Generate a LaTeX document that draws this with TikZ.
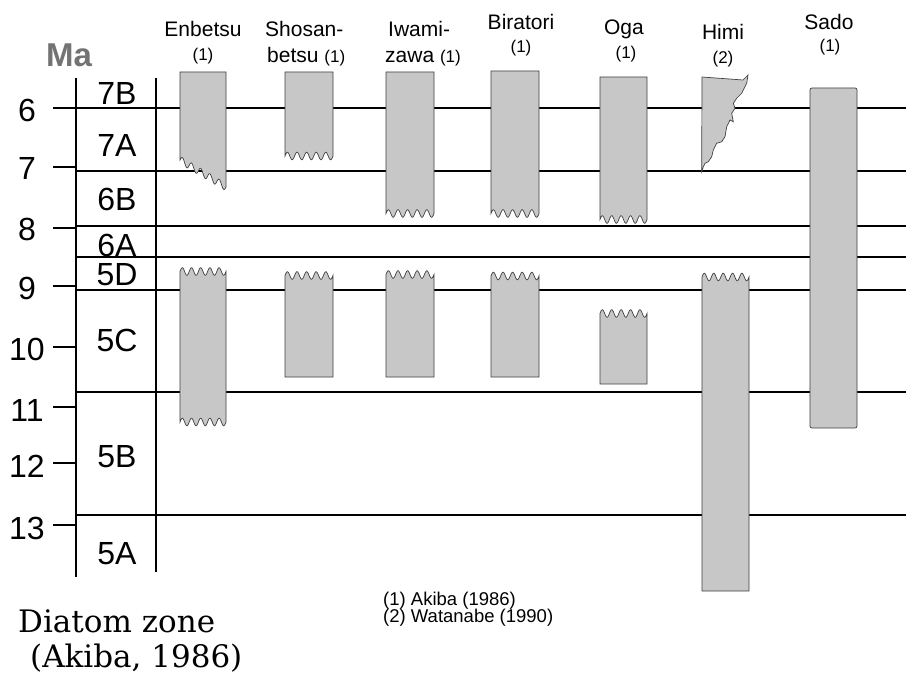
\documentclass[tikz,border=0pt]{standalone}
\usepackage{fontspec}
\setmainfont{Liberation Sans}
\newfontfamily\serf{DejaVu Serif}
\newcommand\boxWB[4]{% x1 x2 top bottom-wave
 \filldraw[colbox] (#1,#3) -- (#2,#3) -- (#2,#4) -- plot[domain=#2:#1,samples=71] (\x,{#4-3.8*sin((\x-#1)/(#2-#1)*1800)}) -- cycle;}
\newcommand\boxWT[4]{% x1 x2 top-wave bottom
 \filldraw[colbox] (#1,#4) -- (#2,#4) -- (#2,#3) -- plot[domain=#2:#1,samples=71] (\x,{#3-3.8*sin((\x-#1)/(#2-#1)*1800)}) -- cycle;}
\newcommand\boxWW[4]{% x1 x2 top-wave bottom-wave
 \filldraw[colbox] (#1,#3) -- plot[domain=#1:#2,samples=71] (\x,{#3-3.8*sin((\x-#1)/(#2-#1)*1800)}) -- (#2,#4) -- plot[domain=#2:#1,samples=71] (\x,{#4-3.8*sin((\x-#1)/(#2-#1)*1800)}) -- cycle;}
\begin{document}
\begin{tikzpicture}[x=1pt,y=-1pt,
  zline/.style={line width=1.4pt, black},
  colbox/.style={fill=black!22, draw=black!75, line width=0.7pt},
  lab/.style={inner sep=0pt, font=\fontsize{32}{38}\selectfont},
  hdr/.style={inner sep=0pt, anchor=base, font=\fontsize{21}{25}\selectfont},
  refn/.style={inner sep=0pt, anchor=base, font=\fontsize{17}{20}\selectfont},
  leg/.style={inner sep=0pt, anchor=base west, font=\fontsize{18.5}{20}\selectfont}]
\useasboundingbox (0,0) rectangle (906,674);
\fill[white] (0,0) rectangle (906,674);

% zone boundaries
\draw[zline] (53,108) -- (906,108);
\foreach \yy in {171,226,257,290,392,515} \draw[zline] (76,\yy) -- (906,\yy);
% ticks
\foreach \yy in {167,228,286,347,407,463,525} \draw[zline] (53,\yy) -- (76,\yy);
% axis lines
\draw[line width=2pt] (76,78) -- (76,577);
\draw[line width=1.4pt] (156,78) -- (156,572);

% tick labels
\foreach \v/\yy in {6/110,7/168,8/229,9/288,10/349,11/410,12/466,13/528}
  \node[lab] (t\v) at (27,\yy) {\v};
% zone labels
\foreach \z/\yy in {7B/93,7A/145,6B/199,6A/245,5D/275,5C/340,5B/457,5A/554}
  \node[lab] (z\z) at (117,\yy) {\z};

\node[inner sep=0pt, anchor=base west, text=black!55, font=\fontsize{33}{38}\bfseries] (ma) at (46,67) {Ma};

% headers
\node[hdr] (h1) at (203,37) {Enbetsu};
\node[refn] (h1r) at (203,61) {(1)};
\node[hdr, anchor=base west] (h2) at (265,37) {Shosan-};
\node[hdr, anchor=base west] (h2b) at (267,63) {betsu {\fontsize{17}{20}\selectfont(1)}};
\node[hdr, anchor=base west] (h3) at (388,37) {Iwami-};
\node[hdr, anchor=base west] (h3b) at (385,63) {zawa {\fontsize{17}{20}\selectfont(1)}};
\node[hdr] (h4) at (521,30) {Biratori};
\node[refn] (h4r) at (521,53) {(1)};
\node[hdr] (h5) at (624,35) {Oga};
\node[refn] (h5r) at (626,59) {(1)};
\node[hdr] (h6) at (723,40) {Himi};
\node[refn] (h6r) at (723,64) {(2)};
\node[hdr] (h7) at (829,30) {Sado};
\node[refn] (h7r) at (830,52) {(1)};

% columns
% Enbetsu
\filldraw[colbox] (180,72) -- (226,72) -- (226,187) -- plot[domain=226:180,samples=71] (\x,{160+(\x-180)/46*27-3.8*sin((\x-180)/46*1800)}) -- cycle;
\boxWW{180}{226}{271.5}{422}
% Shosanbetsu
\boxWB{285}{333}{72}{156}
\boxWT{285}{333}{275.5}{377}
% Iwamizawa
\boxWB{386}{434}{72}{213.5}
\boxWT{386}{434}{274.5}{377}
% Biratori
\boxWB{491}{539}{71}{213.5}
\boxWT{491}{539}{276}{377}
% Oga
\boxWB{600}{647}{77}{219.5}
\boxWT{600}{647}{313.5}{384}
% Himi
\filldraw[colbox] (702,77) -- (743,80) -- (748,75) -- (746.7,83.3) -- (743.3,90) -- (741.7,93.3) -- (736.7,98.3) -- (733.3,103.3) -- (735,108.3) -- (731.7,113.3) -- (733.3,121.7) -- (730,120) -- (726.7,126.7) -- (725,136.7) -- (721.7,141.7) -- (716.7,143.3) -- (713.3,150) -- (711.7,156.7) -- (708.3,161.7) -- (705,163.3) -- (703.3,166.7) -- (701.7,171.7) -- cycle;
\boxWT{702}{749}{277}{591}
% Sado
\filldraw[colbox, rounded corners=2pt] (810,88) rectangle (857,428);

% legend
\node[leg] (l1) at (383,605) {(1) Akiba (1986)};
\node[leg] (l2) at (383,622) {(2) Watanabe (1990)};

\node[inner sep=0pt, anchor=base west, font=\serf\fontsize{31}{37}\selectfont] (dz) at (18,632) {Diatom zone};
\node[inner sep=0pt, anchor=base west, font=\serf\fontsize{31}{37}\selectfont] (dz2) at (30,667) {(Akiba, 1986)};
\end{tikzpicture}
\end{document}
